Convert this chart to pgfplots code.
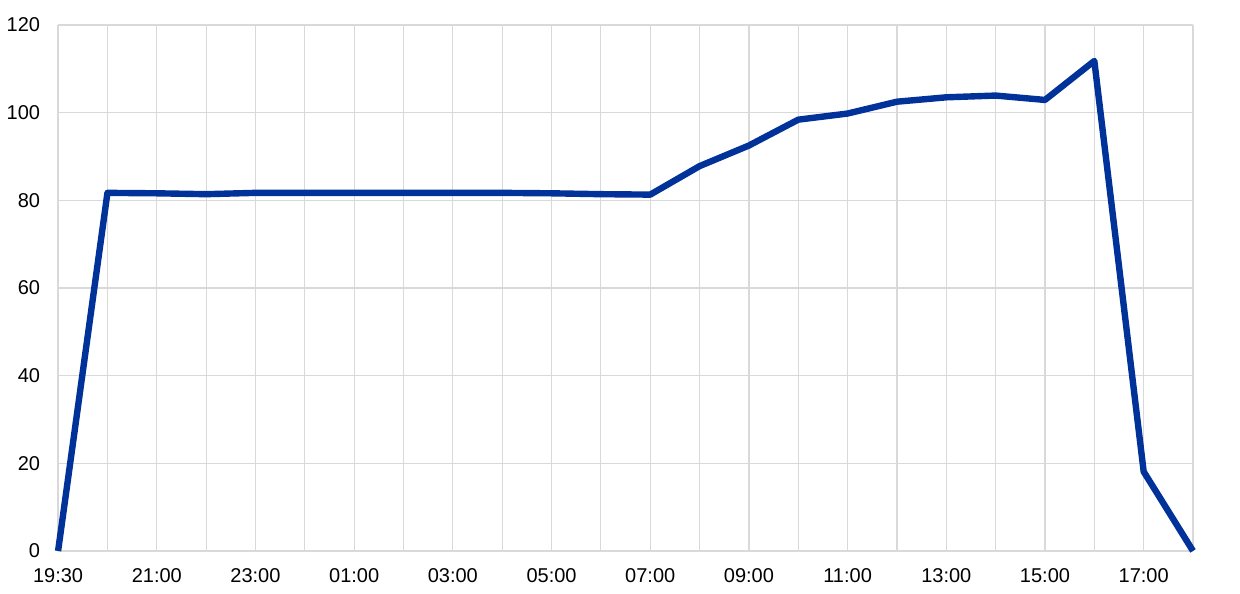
\documentclass[border=0pt]{standalone}
\usepackage{fontspec}
\setmainfont{Liberation Sans}
\usepackage{pgfplots}
\pgfplotsset{compat=1.18}
\definecolor{ecbblue}{HTML}{003299}
\definecolor{gridgray}{HTML}{D9D9D9}
\begin{document}
\begin{tikzpicture}
\begin{axis}[
    scale only axis,
    width=567.5pt, height=263pt,
    xmin=0, xmax=23, ymin=0, ymax=120,
    axis lines=left,
    axis line style={gridgray, line width=0.8pt, -},
    xtick={0,...,23},
    xticklabels={19:30,,21:00,,23:00,,01:00,,03:00,,05:00,,07:00,,09:00,,11:00,,13:00,,15:00,,17:00,},
    ytick={0,20,...,120},
    major tick length=0pt,
    grid=major,
    grid style={gridgray, line width=0.6pt},
    tick label style={font=\fontsize{10}{11}\selectfont, text=black},
    /pgf/number format/assume math mode=true,
    yticklabel style={xshift=-5.5pt},
    xticklabel style={yshift=-5.5pt},
    clip=false,
]
\addplot[ecbblue, line width=3.2pt, line join=round] coordinates {
(0,0) (1,81.7) (2,81.6) (3,81.4) (4,81.7) (5,81.7) (6,81.7) (7,81.7)
(8,81.7) (9,81.7) (10,81.6) (11,81.4) (12,81.3) (13,87.8) (14,92.5)
(15,98.4) (16,99.8) (17,102.5) (18,103.5) (19,103.9) (20,102.9)
(21,111.8) (22,18.1) (23,0)
};
\end{axis}
\path ([xshift=-29pt,yshift=-21.5pt]current axis.south west) rectangle ([xshift=23.5pt,yshift=12.5pt]current axis.north east);
\end{tikzpicture}
\end{document}
